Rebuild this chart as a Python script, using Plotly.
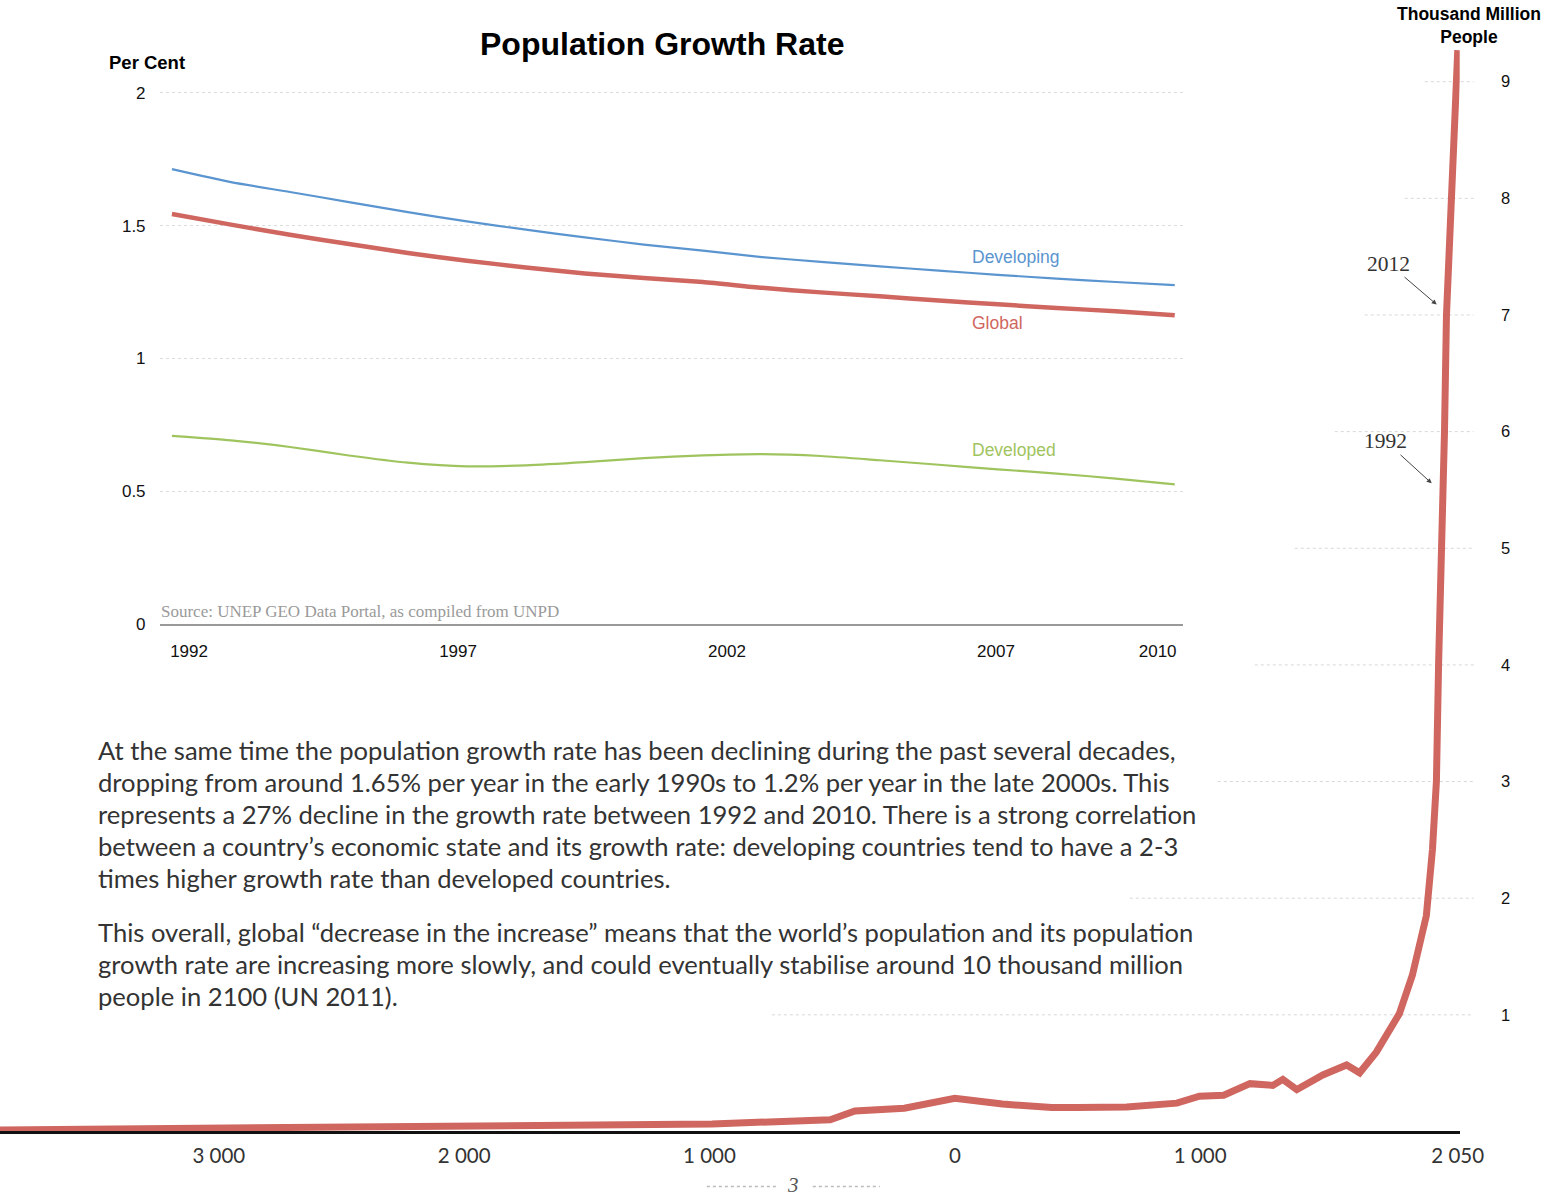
import plotly.graph_objects as go

# ---------------- data ----------------
pop_years = [-4000, -990, -508, -407, -206, 0, 194, 395, 500, 700, 905, 997, 1096,
             1203, 1296, 1337, 1394, 1500, 1597, 1650, 1718, 1785, 1812, 1865,
             1922, 1947, 1963, 1972, 1985, 1996, 2004, 2024, 2044, 2050]
pop_values = [0.01, 0.065, 0.10, 0.175, 0.20, 0.285, 0.235, 0.205, 0.205, 0.21,
              0.243, 0.303, 0.31, 0.41, 0.395, 0.447, 0.36, 0.485, 0.57, 0.503,
              0.68, 0.91, 1.01, 1.34, 1.85, 2.42, 3.0, 4.02, 5.0, 6.0, 7.0, 8.0,
              9.0, 9.27]

rate_years = list(range(1993, 2011))
developing = [1.713, 1.664, 1.627, 1.589, 1.551, 1.516, 1.485, 1.456, 1.429,
              1.406, 1.382, 1.364, 1.347, 1.331, 1.315, 1.301, 1.288, 1.276]
global_rate = [1.544, 1.504, 1.466, 1.431, 1.397, 1.368, 1.343, 1.320, 1.303,
               1.288, 1.266, 1.249, 1.234, 1.218, 1.204, 1.190, 1.178, 1.163]
developed = [0.709, 0.692, 0.667, 0.635, 0.608, 0.594, 0.598, 0.610, 0.625,
             0.635, 0.640, 0.633, 0.617, 0.600, 0.583, 0.567, 0.548, 0.526]

rate_tick_labels = ["1992", "1997", "2002", "2007", "2010"]
rate_y_ticks = [0, 0.5, 1, 1.5, 2]
rate_y_labels = ["0", "0.5", "1", "1.5", "2"]

pop_x_ticks = [-3000, -2000, -1000, 0, 1000, 2050]
pop_x_labels = ["3 000", "2 000", "1 000", "0", "1 000", "2 050"]
pop_y_ticks = [1, 2, 3, 4, 5, 6, 7, 8, 9]

para1 = [
    "At the same time the population growth rate has been declining during the past several decades,",
    "dropping from around 1.65% per year in the early 1990s to 1.2% per year in the late 2000s. This",
    "represents a 27% decline in the growth rate between 1992 and 2010. There is a strong correlation",
    "between a country\u2019s economic state and its growth rate: developing countries tend to have a 2-3",
    "times higher growth rate than developed countries.",
]
para2 = [
    "This overall, global \u201cdecrease in the increase\u201d means that the world\u2019s population and its population",
    "growth rate are increasing more slowly, and could eventually stabilise around 10 thousand million",
    "people in 2100 (UN 2011).",
]

# ---------------- layout helpers ----------------
W, H = 1553, 1197
# effective on-screen extent of the paper (the page is shown slightly reduced)
WE, HE = 1528.3, 1188.6
def px(x):
    return x / WE
def py(y):
    return 1 - y / HE

RED = "#CF6760"
BLUE = "#5B95D0"
GREEN = "#9FC45E"

fig = go.Figure()

fig.add_trace(go.Scatter(x=pop_years, y=pop_values, mode="lines",
                         line=dict(color=RED, width=7), xaxis="x", yaxis="y",
                         hoverinfo="skip", showlegend=False))

fig.add_trace(go.Scatter(x=rate_years, y=developing, mode="lines",
                         line=dict(color=BLUE, width=2.2, shape="spline", smoothing=0.6),
                         xaxis="x2", yaxis="y2", showlegend=False))
fig.add_trace(go.Scatter(x=rate_years, y=global_rate, mode="lines",
                         line=dict(color=RED, width=4.5, shape="spline", smoothing=0.6),
                         xaxis="x2", yaxis="y2", showlegend=False))
fig.add_trace(go.Scatter(x=rate_years, y=developed, mode="lines",
                         line=dict(color=GREEN, width=2.2, shape="spline", smoothing=0.6),
                         xaxis="x2", yaxis="y2", showlegend=False))

rate_tick_pos = [1993.29, 1997.85, 2002.41, 2006.97, 2009.71]

SANS = "Liberation Sans, Arial, sans-serif"
BODY = "Lato, Open Sans, sans-serif"
SERIF = "Liberation Serif, Times New Roman, serif"

fig.update_layout(
    width=W, height=H, autosize=False,
    margin=dict(l=0, r=0, t=0, b=0, pad=0),
    paper_bgcolor="white", plot_bgcolor="rgba(0,0,0,0)",
    showlegend=False,
    xaxis=dict(domain=[0, px(1460)], range=[-3892, 2058], anchor="y",
               showgrid=False, zeroline=False, showline=True,
               linecolor="#111", linewidth=3,
               tickvals=pop_x_ticks, ticktext=pop_x_labels,
               ticks="outside", ticklen=4, tickcolor="rgba(0,0,0,0)",
               tickfont=dict(family=BODY, size=20.5, color="#333")),
    yaxis=dict(domain=[py(1133), py(1133 - 9.5 * 116.8)], range=[0, 9.5],
               anchor="x", side="right", showgrid=False, zeroline=False,
               showline=False, tickvals=pop_y_ticks,
               ticks="outside", ticklen=37, tickcolor="rgba(0,0,0,0)",
               tickfont=dict(family=SANS, size=16.5, color="#111")),
    xaxis2=dict(domain=[px(160), px(1183)], range=[1992.797, 2010.136],
                anchor="y2", showgrid=False, zeroline=False, showline=True,
                linecolor="#999", linewidth=2,
                tickvals=rate_tick_pos, ticktext=rate_tick_labels,
                ticks="outside", ticklen=10, tickcolor="rgba(0,0,0,0)",
                tickfont=dict(family=SANS, size=17, color="#111")),
    yaxis2=dict(domain=[py(625), py(625 - 2.05 * 266)], range=[0, 2.05],
                anchor="x2", showgrid=True, gridcolor="#dcdcdc", griddash="dot",
                gridwidth=1, zeroline=False, showline=False,
                tickvals=rate_y_ticks, ticktext=rate_y_labels,
                ticks="outside", ticklen=10, tickcolor="rgba(0,0,0,0)",
                tickfont=dict(family=SANS, size=17, color="#111")),
)

grid_starts = {1: 772, 2: 1130, 3: 1218, 4: 1255, 5: 1295, 6: 1335, 7: 1365, 8: 1405, 9: 1425}
for k, xs in grid_starts.items():
    fig.add_shape(type="line", xref="paper", yref="y", x0=px(xs), x1=px(1474),
                  y0=k, y1=k, line=dict(color="#d8d8d8", width=1, dash="3px,3px"),
                  layer="below")

ann = []
ann.append(dict(text="<b>Population Growth Rate</b>", x=px(662), y=py(44),
                font=dict(family=SANS, size=32, color="#000")))
ann.append(dict(text="<b>Per Cent</b>", x=px(107), y=py(63), xanchor="left",
                font=dict(family=SANS, size=18.5, color="#000")))
ann.append(dict(text="<b>Thousand Million<br>People</b>", x=px(1469), y=py(26),
                font=dict(family=SANS, size=17.5, color="#000")))
ann.append(dict(text="Developing", x=px(970), y=py(257), xanchor="left",
                font=dict(family=SANS, size=17.5, color=BLUE)))
ann.append(dict(text="Global", x=px(970), y=py(323), xanchor="left",
                font=dict(family=SANS, size=17.5, color=RED)))
ann.append(dict(text="Developed", x=px(970), y=py(451), xanchor="left",
                font=dict(family=SANS, size=17.5, color=GREEN)))
ann.append(dict(text="Source: UNEP GEO Data Portal, as compiled from UNPD",
                x=px(159), y=py(612), xanchor="left",
                font=dict(family=SERIF, size=17, color="#9a9a9a")))

for i, line in enumerate(para1):
    ann.append(dict(text=line, x=px(96), y=py(751 + 32 * i), xanchor="left",
                    font=dict(family=BODY, size=25.6, color="#333")))
for i, line in enumerate(para2):
    ann.append(dict(text=line, x=px(96), y=py(933 + 32 * i), xanchor="left",
                    font=dict(family=BODY, size=25.6, color="#333")))

ann.append(dict(text="<i>3</i>", x=px(793), y=py(1187),
                font=dict(family=SERIF, size=21, color="#555")))

for a in ann:
    a.setdefault("xanchor", "center")
    a.update(xref="paper", yref="paper", showarrow=False, yanchor="middle")

ann.append(dict(text="2012", xref="paper", yref="paper", x=px(1437), y=py(305),
                ax=-48, ay=-41, showarrow=True, arrowhead=2, arrowsize=1,
                arrowwidth=1, arrowcolor="#444", standoff=0,
                font=dict(family=SERIF, size=21.5, color="#333")))
ann.append(dict(text="1992", xref="paper", yref="paper", x=px(1432), y=py(484),
                ax=-46, ay=-42, showarrow=True, arrowhead=2, arrowsize=1,
                arrowwidth=1, arrowcolor="#444", standoff=0,
                font=dict(family=SERIF, size=21.5, color="#333")))

fig.update_layout(annotations=ann)

fig.add_shape(type="line", xref="paper", yref="paper", x0=px(707), x1=px(778),
              y0=py(1188), y1=py(1188), line=dict(color="#bbb", width=1.5, dash="dot"))
fig.add_shape(type="line", xref="paper", yref="paper", x0=px(813), x1=px(880),
              y0=py(1188), y1=py(1188), line=dict(color="#bbb", width=1.5, dash="dot"))

fig.write_html(
    "out.html",
    config={"responsive": False, "displayModeBar": False},
    post_script=("document.documentElement.style.margin='0';"
                 "document.body.style.margin='0';"
                 "document.body.style.overflow='hidden';"
                 "document.documentElement.style.overflow='hidden';"),
)
